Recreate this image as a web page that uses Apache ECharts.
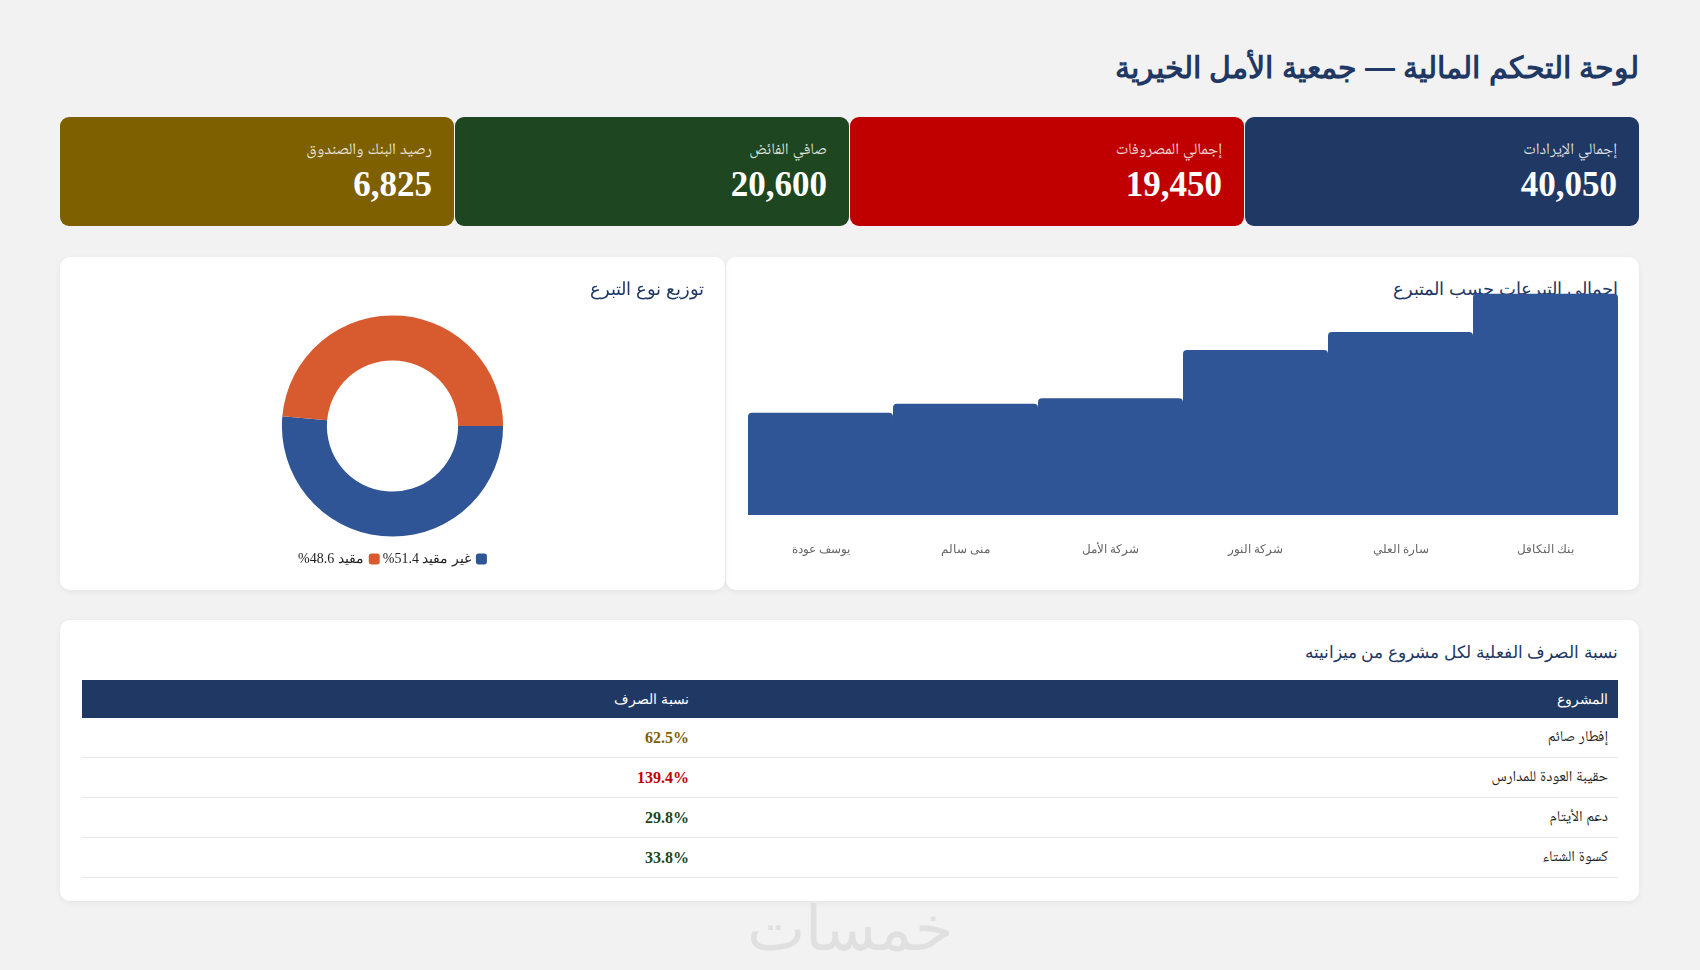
<!DOCTYPE html>
<html lang="ar" dir="rtl">
<head>
<meta charset="utf-8">
<script src="https://cdn.jsdelivr.net/npm/echarts@6/dist/echarts.min.js"></script>
<style>
  html,body{margin:0;padding:0;}
  body{width:1700px;height:970px;background:#f2f2f2;position:relative;overflow:hidden;
       font-family:"Times New Roman",serif;color:#222;}
  .h{font-family:"Segoe UI",Tahoma,sans-serif;}
  .nk{font-family:"Times New Roman","Noto Naskh Arabic",serif;}
  h1{position:absolute;right:61px;top:48px;height:40px;line-height:40px;margin:0;
     font-size:30px;font-weight:600;color:#1f3864;}
  .kpi{position:absolute;top:117px;height:109px;width:394px;border-radius:9px;color:#fff;box-sizing:border-box;}
  .kpi .lbl{position:absolute;right:22px;top:20px;font-size:16px;line-height:24px;color:rgba(255,255,255,0.85);}
  .kpi .val{position:absolute;right:22px;top:46px;font-size:35px;line-height:44px;font-weight:bold;}
  .card{position:absolute;background:#fff;border-radius:10px;box-shadow:0 2px 6px rgba(0,0,0,0.06);}
  .ctitle{position:absolute;right:21px;top:20px;line-height:24px;font-size:18px;color:#1f3864;margin:0;font-weight:normal;}
  .chart{position:absolute;left:0;top:0;width:100%;height:100%;}
  table{position:absolute;left:22px;top:60px;width:1536px;border-collapse:collapse;font-size:15px;table-layout:fixed;}
  th{background:#203864;color:#fff;height:38px;text-align:right;padding:0 10px;font-weight:normal;font-size:14px;}
  td{height:39px;border-bottom:1px solid #e6e6e6;text-align:right;padding:0 10px;}
  td.v{font-weight:bold;font-size:16px;}
  .wm{position:absolute;left:0;width:1700px;top:894px;text-align:center;font-size:62px;line-height:70px;color:#e0e0e0;font-weight:normal;}
</style>
</head>
<body class="nk">
<h1 class="h">لوحة التحكم المالية — جمعية الأمل الخيرية</h1>
<div id="kpis"></div>

<div class="card" id="barCard" style="left:726px;top:257px;width:913px;height:333px;">
  <h3 class="ctitle h">إجمالي التبرعات حسب المتبرع</h3>
  <div class="chart" id="bar"></div>
</div>
<div class="card" id="pieCard" style="left:60px;top:257px;width:665px;height:333px;">
  <h3 class="ctitle h">توزيع نوع التبرع</h3>
  <div class="chart" id="pie"></div>
</div>
<div class="card" style="left:60px;top:620px;width:1579px;height:281px;">
  <h3 class="ctitle h" style="top:21px;font-size:17px;">نسبة الصرف الفعلية لكل مشروع من ميزانيته</h3>
  <table>
    <thead><tr><th class="h" style="width:899px;">المشروع</th><th class="h">نسبة الصرف</th></tr></thead>
    <tbody id="tbody"></tbody>
  </table>
</div>
<div class="wm h">خمسات</div>

<script>
// KPI cards
const kpiLabels = ['إجمالي الإيرادات','إجمالي المصروفات','صافي الفائض','رصيد البنك والصندوق'];
const kpiValues = [40050, 19450, 20600, 6825];
const kpiColors = ['#203864','#c00000','#1e4620','#7f6000'];

// Donations by donor (bar chart)
const donors = ['بنك التكافل','سارة العلي','شركة النور','شركة الأمل','منى سالم','يوسف عودة'];
const donations = [9850, 8150, 7350, 5200, 4950, 4550];

// Donation type distribution (donut)
const donationTypes = ['غير مقيد','مقيد'];
const typeShares = [51.4, 48.6];
const typeColors = ['#2f5597','#d85b30'];

// Spending ratio per project (table)
const projects = ['إفطار صائم','حقيبة العودة للمدارس','دعم الأيتام','كسوة الشتاء'];
const spendRatios = [62.5, 139.4, 29.8, 33.8];
const ratioColors = ['#7f6000','#c00000','#1e4620','#1e4620'];

const kpiWrap = document.getElementById('kpis');
kpiLabels.forEach((l,i)=>{
  const d = document.createElement('div');
  d.className='kpi';
  d.style.background = kpiColors[i];
  d.style.right = (61 + i*395) + 'px';
  d.innerHTML = '<div class="lbl">'+l+'</div><div class="val">'+kpiValues[i].toLocaleString('en-US')+'</div>';
  kpiWrap.appendChild(d);
});

const tb = document.getElementById('tbody');
projects.forEach((p,i)=>{
  const tr = document.createElement('tr');
  tr.innerHTML = '<td>'+p+'</td><td class="v" style="color:'+ratioColors[i]+'">'+spendRatios[i].toFixed(1)+'%</td>';
  tb.appendChild(tr);
});

const FONT = '"Times New Roman", serif';

const bar = echarts.init(document.getElementById('bar'));
bar.setOption({
  animation:false,
  textStyle:{fontFamily:FONT},
  grid:{left:22,right:21,top:33.5,bottom:75},
  xAxis:{type:'category',data:donors,inverse:true,
    axisLine:{show:false},axisTick:{show:false},
    axisLabel:{margin:29,color:'#666',fontSize:12,fontFamily:FONT}},
  yAxis:{type:'value',show:false,splitLine:{show:false}},
  series:[{type:'bar',data:donations,barCategoryGap:'0%',
    itemStyle:{color:'#2f5597',borderRadius:[4,4,0,0]}}]
});

const pie = echarts.init(document.getElementById('pie'));
pie.setOption({
  animation:false,
  textStyle:{fontFamily:FONT},
  legend:{data:donationTypes.slice().reverse(),top:290,left:'center',align:'right',
    itemWidth:11,itemHeight:11,itemGap:3,icon:'roundRect',
    textStyle:{fontSize:14,color:'#222',fontFamily:FONT},
    formatter:function(n){const i=donationTypes.indexOf(n);return n+' '+typeShares[i]+'%';}},
  series:[{type:'pie',radius:[65.6,110.6],center:[332.5,169],startAngle:0,
    label:{show:false},labelLine:{show:false},
    data:donationTypes.map((n,i)=>({name:n,value:typeShares[i],itemStyle:{color:typeColors[i]}}))}]
});
</script>
</body>
</html>
